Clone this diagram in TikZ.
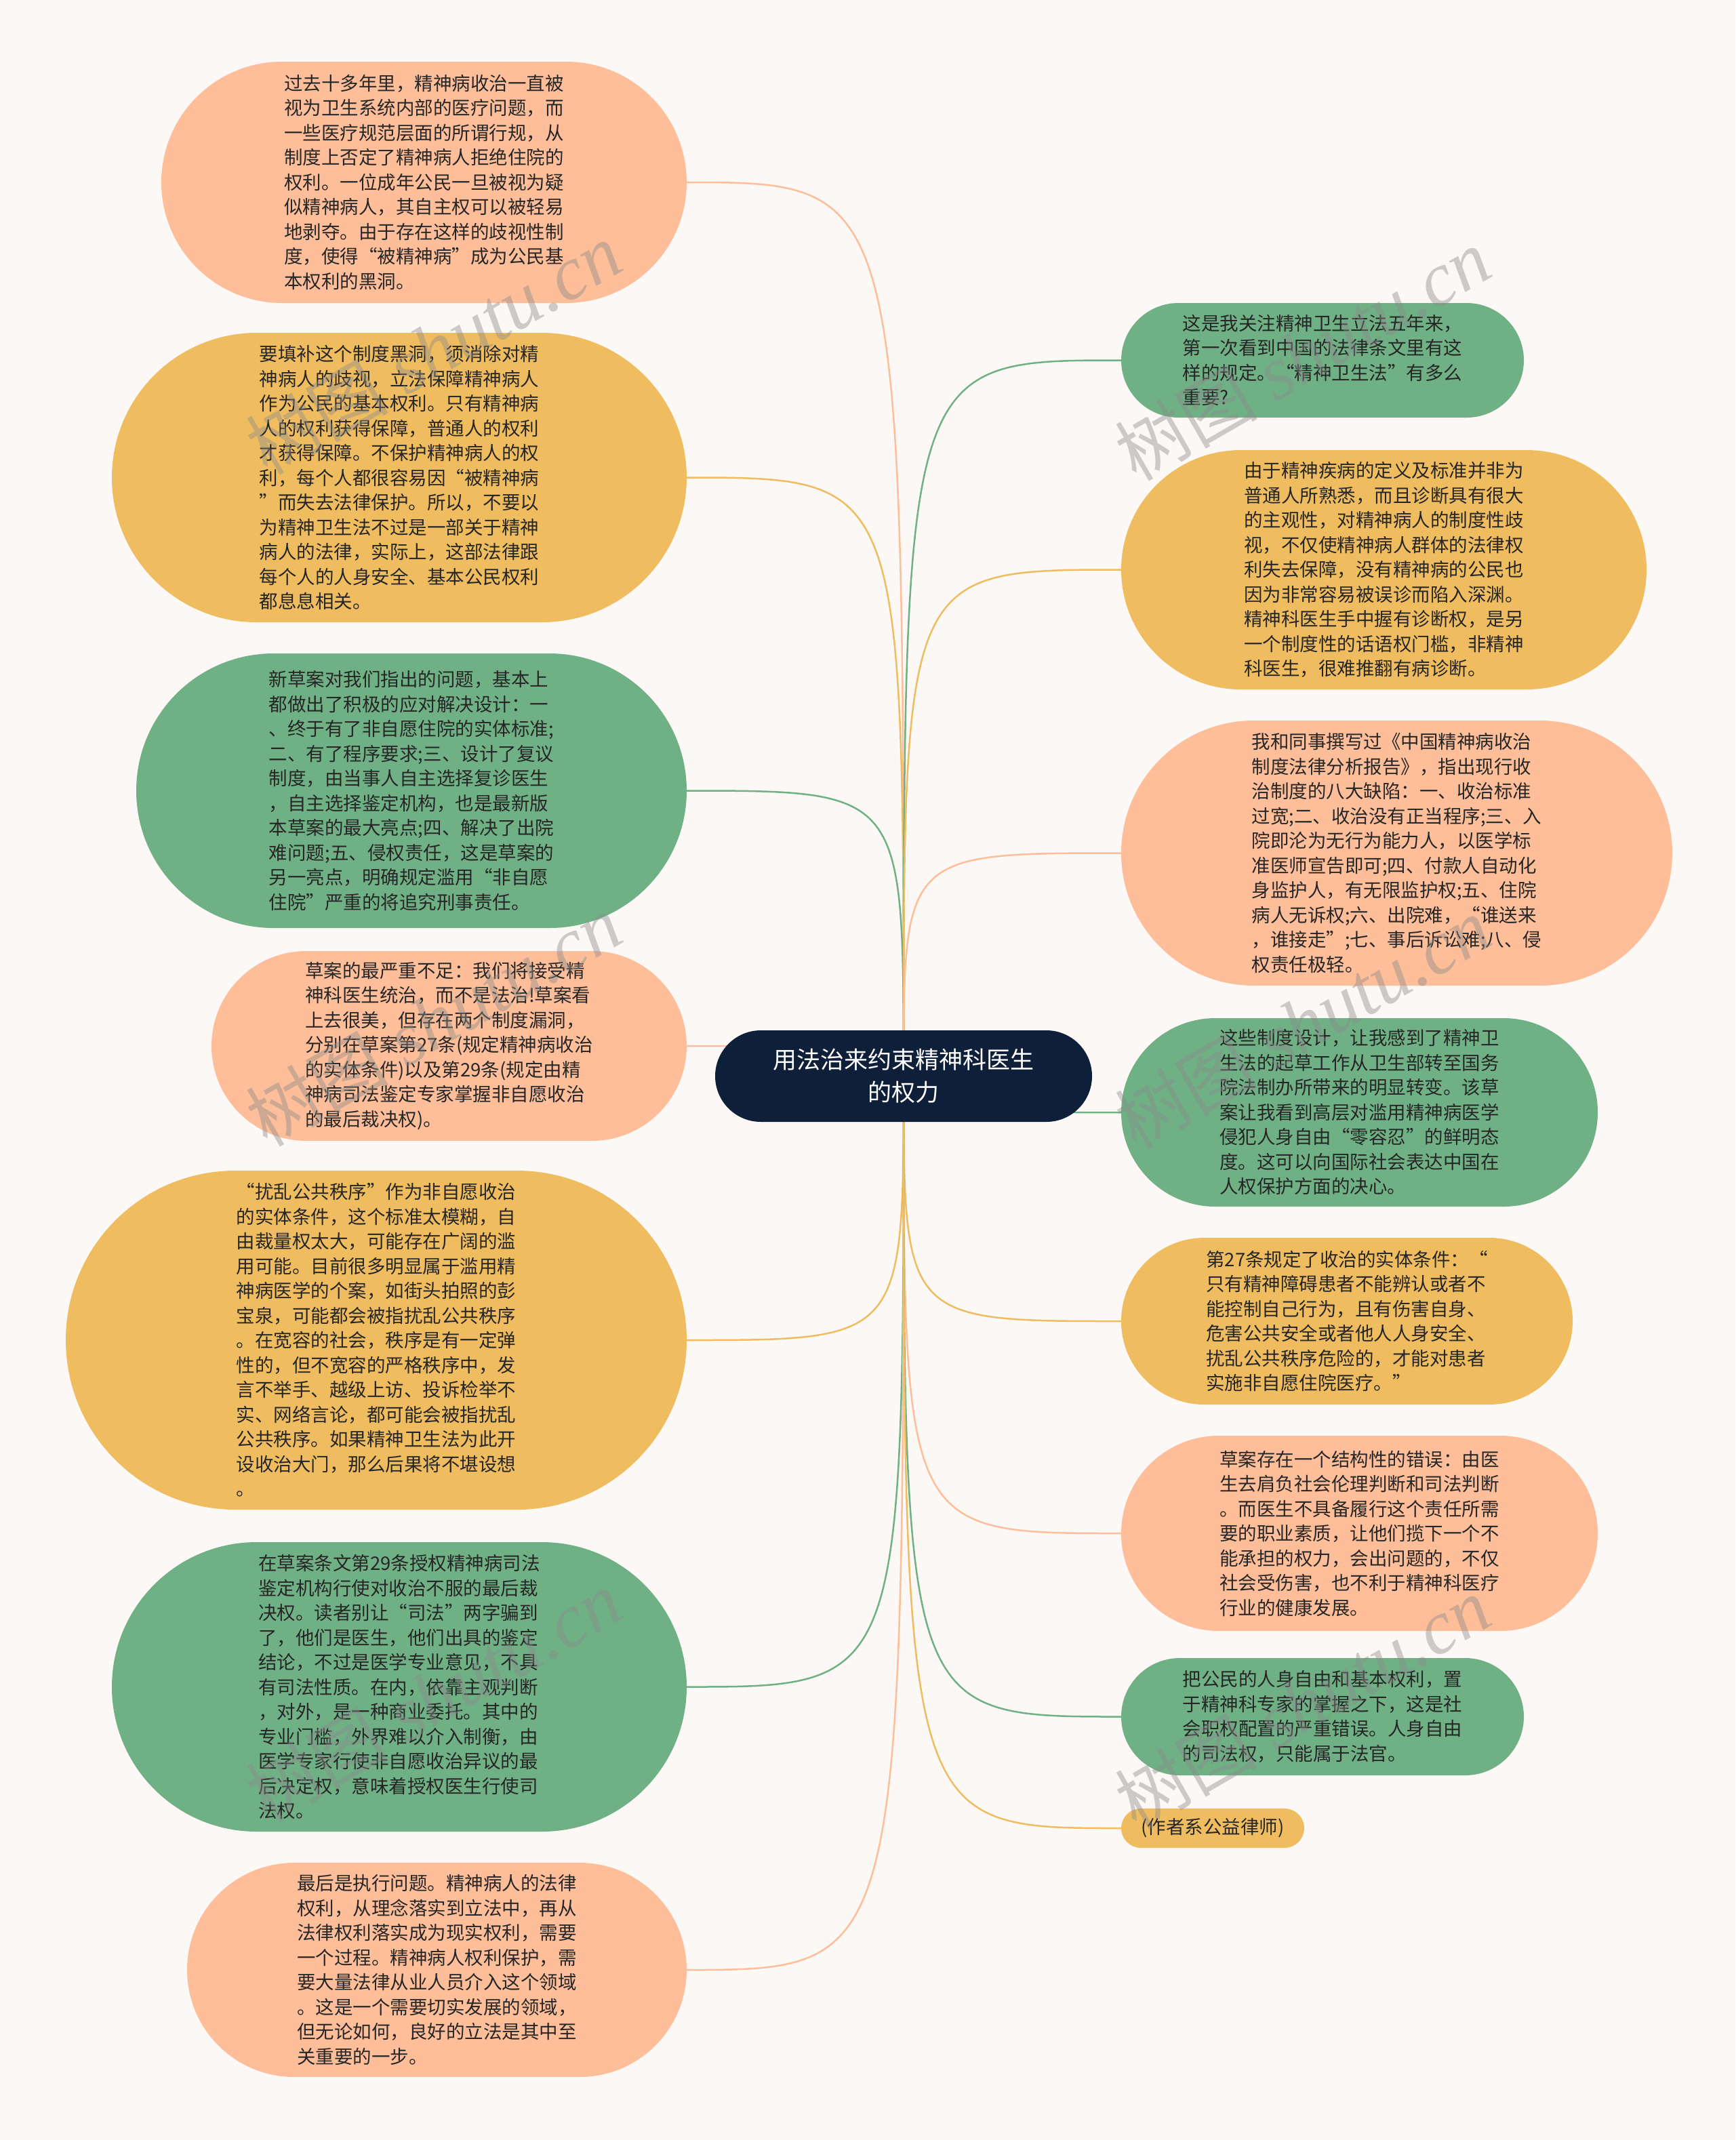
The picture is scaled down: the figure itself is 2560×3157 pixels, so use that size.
\documentclass[tikz,border=0pt]{standalone}
\usepackage{fontspec}
\newfontfamily\cjk{Noto Sans CJK SC}
\newfontfamily\wmserif{Liberation Serif}
\usetikzlibrary{shapes.misc}
\definecolor{bgc}{HTML}{FCF8F6}
\definecolor{peach}{HTML}{FDBE99}
\definecolor{yell}{HTML}{EFBC60}
\definecolor{grn}{HTML}{70B085}
\definecolor{navy}{HTML}{0E1F3A}
\definecolor{txt}{HTML}{262626}
\definecolor{wmc}{HTML}{8A8A8A}
\pgfdeclarelayer{bgl}\pgfdeclarelayer{lines}\pgfdeclarelayer{wm}
\pgfsetlayers{bgl,lines,main,wm}
\tikzset{
  blob/.style={rounded rectangle, inner sep=0pt, align=left, text=txt,
    font=\cjk\fontsize{27.5}{36.5}\selectfont},
  pk/.style={blob, fill=peach},
  yl/.style={blob, fill=yell},
  gn/.style={blob, fill=grn},
  hub/.style={rounded rectangle, inner sep=0pt, align=center, fill=navy, text=white,
    font=\cjk\fontsize{35}{48}\selectfont},
  conn/.style={line width=2.5pt},
  wmark/.style={rotate=30, text=wmc, opacity=0.42, inner sep=0pt}
}
\begin{document}
\begin{tikzpicture}[x=1pt,y=-1pt]
\begin{pgfonlayer}{bgl}
\fill[bgc] (0,0) rectangle (2560,3157);
\end{pgfonlayer}
\useasboundingbox (0,0) rectangle (2560,3157);

\node[hub, minimum width=556pt, minimum height=135pt] (C) at (1333,1587.5) {用法治来约束精神科医生\\的权力};

% left column
\node[pk, minimum width=775pt, minimum height=356pt] (L1) at (625.5,269) {过去十多年里，精神病收治一直被\\视为卫生系统内部的医疗问题，而\\一些医疗规范层面的所谓行规，从\\制度上否定了精神病人拒绝住院的\\权利。一位成年公民一旦被视为疑\\似精神病人，其自主权可以被轻易\\地剥夺。由于存在这样的歧视性制\\度，使得“被精神病”成为公民基\\本权利的黑洞。};
\node[yl, minimum width=848pt, minimum height=427pt] (L2) at (589,704.5) {要填补这个制度黑洞，须消除对精\\神病人的歧视，立法保障精神病人\\作为公民的基本权利。只有精神病\\人的权利获得保障，普通人的权利\\才获得保障。不保护精神病人的权\\利，每个人都很容易因“被精神病\\”而失去法律保护。所以，不要以\\为精神卫生法不过是一部关于精神\\病人的法律，实际上，这部法律跟\\每个人的人身安全、基本公民权利\\都息息相关。};
\node[gn, minimum width=812pt, minimum height=405pt] (L3) at (607,1166.5) {新草案对我们指出的问题，基本上\\都做出了积极的应对解决设计：一\\、终于有了非自愿住院的实体标准;\\二、有了程序要求;三、设计了复议\\制度，由当事人自主选择复诊医生\\，自主选择鉴定机构，也是最新版\\本草案的最大亮点;四、解决了出院\\难问题;五、侵权责任，这是草案的\\另一亮点，明确规定滥用“非自愿\\住院”严重的将追究刑事责任。};
\node[pk, minimum width=701pt, minimum height=280pt] (L4) at (662.5,1543) {草案的最严重不足：我们将接受精\\神科医生统治，而不是法治!草案看\\上去很美，但存在两个制度漏洞，\\分别在草案第27条(规定精神病收治\\的实体条件)以及第29条(规定由精\\神病司法鉴定专家掌握非自愿收治\\的最后裁决权)。};
\node[yl, minimum width=916pt, minimum height=500pt] (L5) at (555,1977) {“扰乱公共秩序”作为非自愿收治\\的实体条件，这个标准太模糊，自\\由裁量权太大，可能存在广阔的滥\\用可能。目前很多明显属于滥用精\\神病医学的个案，如街头拍照的彭\\宝泉，可能都会被指扰乱公共秩序\\。在宽容的社会，秩序是有一定弹\\性的，但不宽容的严格秩序中，发\\言不举手、越级上访、投诉检举不\\实、网络言论，都可能会被指扰乱\\公共秩序。如果精神卫生法为此开\\设收治大门，那么后果将不堪设想\\。};
\node[gn, minimum width=848pt, minimum height=427pt] (L6) at (589,2488.5) {在草案条文第29条授权精神病司法\\鉴定机构行使对收治不服的最后裁\\决权。读者别让“司法”两字骗到\\了，他们是医生，他们出具的鉴定\\结论，不过是医学专业意见，不具\\有司法性质。在内，依靠主观判断\\，对外，是一种商业委托。其中的\\专业门槛，外界难以介入制衡，由\\医学专家行使非自愿收治异议的最\\后决定权，意味着授权医生行使司\\法权。};
\node[pk, minimum width=737pt, minimum height=316pt] (L7) at (644.5,2906) {最后是执行问题。精神病人的法律\\权利，从理念落实到立法中，再从\\法律权利落实成为现实权利，需要\\一个过程。精神病人权利保护，需\\要大量法律从业人员介入这个领域\\。这是一个需要切实发展的领域，\\但无论如何，良好的立法是其中至\\关重要的一步。};

% right column
\node[gn, minimum width=594pt, minimum height=169pt] (R1) at (1951,531.5) {这是我关注精神卫生立法五年来，\\第一次看到中国的法律条文里有这\\样的规定。“精神卫生法”有多么\\重要?};
\node[yl, minimum width=775pt, minimum height=353pt] (R2) at (2041.5,840.5) {由于精神疾病的定义及标准并非为\\普通人所熟悉，而且诊断具有很大\\的主观性，对精神病人的制度性歧\\视，不仅使精神病人群体的法律权\\利失去保障，没有精神病的公民也\\因为非常容易被误诊而陷入深渊。\\精神科医生手中握有诊断权，是另\\一个制度性的话语权门槛，非精神\\科医生，很难推翻有病诊断。};
\node[pk, minimum width=813pt, minimum height=391pt] (R3) at (2060.5,1258.5) {我和同事撰写过《中国精神病收治\\制度法律分析报告》，指出现行收\\治制度的八大缺陷：一、收治标准\\过宽;二、收治没有正当程序;三、入\\院即沦为无行为能力人，以医学标\\准医师宣告即可;四、付款人自动化\\身监护人，有无限监护权;五、住院\\病人无诉权;六、出院难，“谁送来\\，谁接走”;七、事后诉讼难;八、侵\\权责任极轻。};
\node[gn, minimum width=703pt, minimum height=278pt] (R4) at (2005.5,1641) {这些制度设计，让我感到了精神卫\\生法的起草工作从卫生部转至国务\\院法制办所带来的明显转变。该草\\案让我看到高层对滥用精神病医学\\侵犯人身自由“零容忍”的鲜明态\\度。这可以向国际社会表达中国在\\人权保护方面的决心。};
\node[yl, minimum width=666pt, minimum height=246pt] (R5) at (1987,1949) {第27条规定了收治的实体条件：“\\只有精神障碍患者不能辨认或者不\\能控制自己行为，且有伤害自身、\\危害公共安全或者他人人身安全、\\扰乱公共秩序危险的，才能对患者\\实施非自愿住院医疗。”};
\node[pk, minimum width=703pt, minimum height=288pt] (R6) at (2005.5,2262) {草案存在一个结构性的错误：由医\\生去肩负社会伦理判断和司法判断\\。而医生不具备履行这个责任所需\\要的职业素质，让他们揽下一个不\\能承担的权力，会出问题的，不仅\\社会受伤害，也不利于精神科医疗\\行业的健康发展。};
\node[gn, minimum width=594pt, minimum height=173pt] (R7) at (1951,2532.5) {把公民的人身自由和基本权利，置\\于精神科专家的掌握之下，这是社\\会职权配置的严重错误。人身自由\\的司法权，只能属于法官。};
\node[yl, minimum width=270pt, minimum height=58pt] (R8) at (1789,2697) {(作者系公益律师)};

% connectors
\begin{pgfonlayer}{lines}
\foreach \n/\c in {L1/peach,L2/yell,L3/grn,L4/peach,L5/yell,L6/grn,L7/peach}{
  \draw[conn, draw=\c] (C.center) .. controls (C.center |- \n.east) .. (\n.east);
}
\foreach \n/\c in {R1/grn,R2/yell,R3/peach,R4/grn,R5/yell,R6/peach,R7/grn,R8/yell}{
  \draw[conn, draw=\c] (C.center) .. controls (C.center |- \n.west) .. (\n.west);
}
\end{pgfonlayer}

% watermarks
\begin{pgfonlayer}{wm}
\foreach \i/\p in {1/{(640,515)},2/{(1922,524)},3/{(640,1506)},4/{(1922,1510)},5/{(640,2503)},6/{(1922,2513)}}{
  \node[wmark] (wm\i) at \p {{\cjk\fontsize{105}{105}\selectfont 树图}\hspace{26pt}{\wmserif\itshape\fontsize{112}{112}\selectfont shutu.cn}};
}
\end{pgfonlayer}
\end{tikzpicture}
\end{document}
